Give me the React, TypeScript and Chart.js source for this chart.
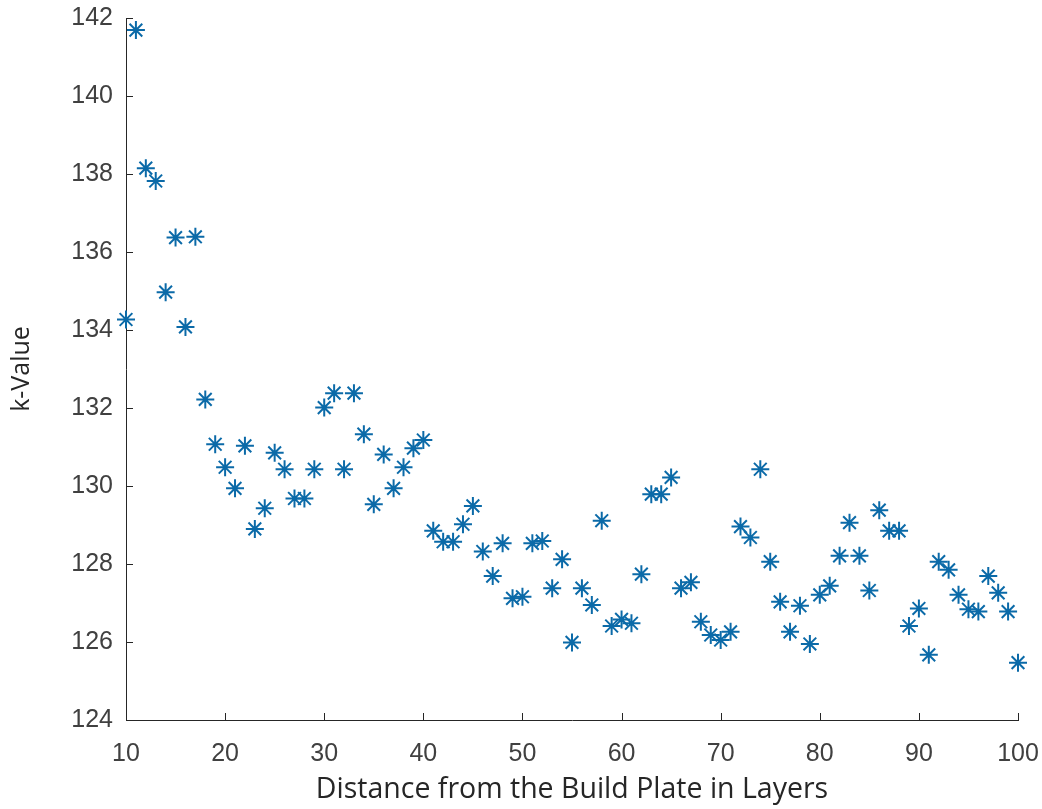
import React, { useEffect, useRef } from "react";
import { Chart, registerables } from "chart.js";

Chart.register(...registerables);

const layers: number[] = [
  10, 11, 12, 13, 14, 15, 16, 17, 18, 19,
  20, 21, 22, 23, 24, 25, 26, 27, 28, 29,
  30, 31, 32, 33, 34, 35, 36, 37, 38, 39,
  40, 41, 42, 43, 44, 45, 46, 47, 48, 49,
  50, 51, 52, 53, 54, 55, 56, 57, 58, 59,
  60, 61, 62, 63, 64, 65, 66, 67, 68, 69,
  70, 71, 72, 73, 74, 75, 76, 77, 78, 79,
  80, 81, 82, 83, 84, 85, 86, 87, 88, 89,
  90, 91, 92, 93, 94, 95, 96, 97, 98, 99,
  100,
];

const kValues: number[] = [
  134.27, 141.69, 138.15, 137.82, 134.97, 136.37, 134.08, 136.39, 132.22, 131.07,
  130.48, 129.94, 131.03, 128.9, 129.43, 130.85, 130.43, 129.68, 129.68, 130.43,
  132.01, 132.38, 130.43, 132.38, 131.33, 129.53, 130.81, 129.94, 130.48, 130.97,
  131.18, 128.85, 128.57, 128.57, 129.02, 129.49, 128.32, 127.69, 128.53, 127.12,
  127.16, 128.53, 128.59, 127.38, 128.12, 125.99, 127.38, 126.95, 129.11, 126.41,
  126.58, 126.48, 127.74, 129.79, 129.79, 130.22, 127.38, 127.53, 126.52, 126.18,
  126.05, 126.26, 128.96, 128.68, 130.43, 128.06, 127.03, 126.26, 126.93, 125.95,
  127.21, 127.44, 128.21, 129.06, 128.21, 127.32, 129.38, 128.85, 128.85, 126.41,
  126.86, 125.67, 128.06, 127.85, 127.21, 126.84, 126.78, 127.69, 127.26, 126.78,
  125.47,
];

const xTitle = "Distance from the Build Plate in Layers";
const yTitle = "k-Value";

const inwardTicks = {
  id: "inwardTicks",
  afterDraw(chart: any) {
    const { ctx, chartArea, scales } = chart;
    const len = 7;
    ctx.save();
    ctx.strokeStyle = "#262626";
    ctx.lineWidth = 1;
    ctx.beginPath();
    scales.x.ticks.forEach((t: any) => {
      const px = Math.round(scales.x.getPixelForValue(t.value)) + 0.5;
      ctx.moveTo(px, chartArea.bottom);
      ctx.lineTo(px, chartArea.bottom - len);
    });
    scales.y.ticks.forEach((t: any) => {
      const py = Math.round(scales.y.getPixelForValue(t.value)) + 0.5;
      ctx.moveTo(chartArea.left, py);
      ctx.lineTo(chartArea.left + len, py);
    });
    ctx.stroke();
    ctx.restore();
  },
};

export default function App() {
  const ref = useRef<HTMLCanvasElement | null>(null);

  useEffect(() => {
    if (!ref.current) return;
    const points = layers.map((x, i) => ({ x, y: kValues[i] }));
    const chart = new Chart(ref.current, {
      type: "scatter",
      data: {
        datasets: [
          {
            data: points,
            pointStyle: "star",
            pointRadius: 9,
            pointHoverRadius: 9,
            borderColor: "#0b6aa8",
            backgroundColor: "#0b6aa8",
            borderWidth: 2,
            clip: false as any,
          },
        ],
      },
      options: {
        animation: false,
        responsive: false,
        events: [],
        layout: { padding: { left: 0, right: 24, top: 18, bottom: 2 } },
        plugins: {
          legend: { display: false },
          tooltip: { enabled: false },
        },
        scales: {
          x: {
            type: "linear",
            min: 10,
            max: 100,
            afterFit: (s: any) => {
              s.height = 87;
              s.paddingLeft = 0;
              s.paddingRight = 0;
            },
            ticks: {
              stepSize: 10,
              padding: 19,
              color: "#404040",
              font: { family: "'Liberation Sans', Arial, sans-serif", size: 25 },
            },
            grid: { display: true, drawOnChartArea: false, drawTicks: false },
            border: { display: true, color: "#262626", width: 1 },
            title: {
              display: true,
              text: xTitle,
              color: "#262626",
              font: { family: "'Open Sans', sans-serif", size: 28.5 },
              padding: { top: 0, bottom: 0 },
            },
          },
          y: {
            type: "linear",
            min: 124,
            max: 142,
            afterFit: (s: any) => {
              s.width = 126;
              s.paddingTop = 0;
              s.paddingBottom = 0;
            },
            ticks: {
              stepSize: 2,
              padding: 13,
              color: "#404040",
              font: { family: "'Liberation Sans', Arial, sans-serif", size: 25 },
            },
            grid: { display: true, drawOnChartArea: false, drawTicks: false },
            border: { display: true, color: "#262626", width: 1 },
            title: {
              display: true,
              text: yTitle,
              color: "#262626",
              font: { family: "'Open Sans', sans-serif", size: 25 },
              padding: { top: 7, bottom: 0 },
            },
          },
        },
      },
      plugins: [inwardTicks],
    });
    return () => chart.destroy();
  }, []);

  return (
    <div style={{ position: "absolute", left: 0, top: 0, width: 1042, height: 809, background: "#fff" }}>
      <canvas ref={ref} width={1042} height={809} style={{ display: "block" }} />
    </div>
  );
}
